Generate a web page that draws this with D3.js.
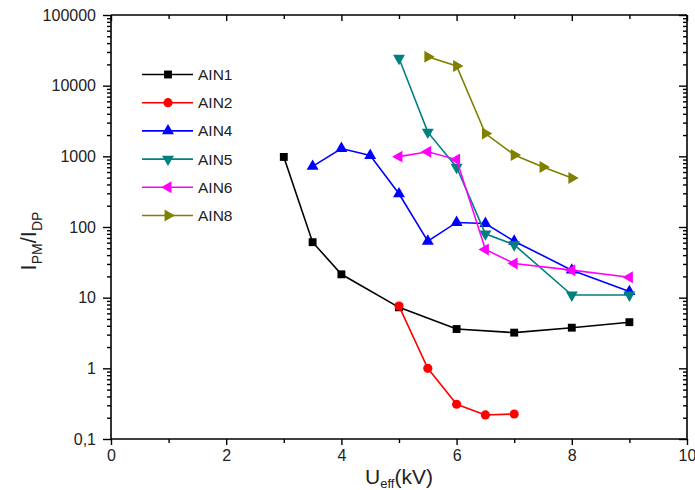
<!DOCTYPE html>
<html>
<head>
<meta charset="utf-8">
<script src="https://cdn.jsdelivr.net/npm/d3@7"></script>
<style>
  html, body { margin: 0; padding: 0; background: #fff; }
  svg { display: block; font-family: Arial, "Liberation Sans", sans-serif; }
</style>
</head>
<body>
<svg id="chart" width="695" height="490"></svg>
<script>
// Ratio I_PM / I_DP versus effective voltage for several samples
const seriesNames = ["AIN1", "AIN2", "AIN4", "AIN5", "AIN6", "AIN8"];
const seriesColors = ["#000000", "#ff0000", "#0000ff", "#008080", "#ff00ff", "#808000"];
const seriesSymbols = ["square", "circle", "up", "down", "left", "right"];

const ain1X = [3, 3.5, 4, 5, 6, 7, 8, 9];
const ain1Y = [980, 61, 21.4, 7.3, 3.6, 3.2, 3.76, 4.5];
const ain2X = [5, 5.5, 6, 6.5, 7];
const ain2Y = [7.6, 1.0, 0.31, 0.219, 0.226];
const ain4X = [3.5, 4, 4.5, 5, 5.5, 6, 6.5, 7, 8, 9];
const ain4Y = [720, 1290, 1030, 295, 63, 116, 112, 63, 24.5, 12.2];
const ain5X = [5, 5.5, 6, 6.5, 7, 8, 9];
const ain5Y = [24400, 2200, 700, 80, 56, 10.9, 10.9];
const ain6X = [5, 5.5, 6, 6.5, 7, 8, 9];
const ain6Y = [990, 1160, 900, 48, 30.5, 24.5, 19.4];
const ain8X = [5.5, 6, 6.5, 7, 7.5, 8];
const ain8Y = [25700, 19000, 2100, 1045, 706, 493];

const xTickValues = [0, 2, 4, 6, 8, 10];
const xTickLabels = ["0", "2", "4", "6", "8", "10"];
const yTickValues = [0.1, 1, 10, 100, 1000, 10000, 100000];
const yTickLabels = ["0,1", "1", "10", "100", "1000", "10000", "100000"];

const seriesX = [ain1X, ain2X, ain4X, ain5X, ain6X, ain8X];
const seriesY = [ain1Y, ain2Y, ain4Y, ain5Y, ain6Y, ain8Y];

const svg = d3.select("#chart");
const plotLeft = 111, plotRight = 687, plotTop = 15, plotBottom = 439;

const x = d3.scaleLinear().domain([0, 10]).range([plotLeft, plotRight]);
const y = d3.scaleLog().domain([0.1, 100000]).range([plotBottom, plotTop]);

// minor tick positions
const xMinor = d3.range(1, 10, 2);
const yMinor = [];
for (let e = -1; e < 5; e++) for (let m = 2; m <= 9; m++) yMinor.push(m * Math.pow(10, e));

const axisG = svg.append("g");

function addAxis(axisFn, scale, transform, major, majorSize, minor, minorSize, labels, padding) {
  const g = axisG.append("g").attr("transform", transform);
  const major_ = axisFn(scale).tickValues(major).tickSize(majorSize);
  if (labels) major_.tickFormat((d, i) => labels[i]).tickPadding(padding);
  else major_.tickFormat("");
  g.call(major_);
  const mg = g.append("g").call(axisFn(scale).tickValues(minor).tickFormat("").tickSize(minorSize));
  mg.select(".domain").remove();
  return g;
}

const bottomAxis = addAxis(d3.axisBottom, x, `translate(0,${plotBottom})`, xTickValues, 6, xMinor, 4, xTickLabels, 5);
const leftAxis = addAxis(d3.axisLeft, y, `translate(${plotLeft},0)`, yTickValues, 8, yMinor, 4, yTickLabels, 7);
// top and right frame edges carry ticks pointing into the plot
const topAxis = addAxis(d3.axisBottom, x, `translate(0,${plotTop})`, xTickValues, 6, xMinor, 4, null, 0);
const rightAxis = addAxis(d3.axisLeft, y, `translate(${plotRight},0)`, yTickValues, 8, yMinor, 4, null, 0);

axisG.selectAll(".domain").attr("stroke", "#000").attr("stroke-width", 1.6);
axisG.selectAll(".tick line").attr("stroke", "#000").attr("stroke-width", 1.4);
axisG.selectAll(".tick text").attr("fill", "#222").style("font-size", "16px")
  .style("font-family", "Arial, 'Liberation Sans', sans-serif");

bottomAxis.select(".domain").attr("d", `M${plotLeft},0H${plotRight}`);
topAxis.select(".domain").attr("d", `M${plotLeft},0H${plotRight}`);
leftAxis.select(".domain").attr("d", `M0,${plotTop}V${plotBottom}`);
rightAxis.select(".domain").attr("d", `M0,${plotTop}V${plotBottom}`);

// axis titles, centred on their axes
const xTitle = svg.append("text")
  .attr("x", (plotLeft + plotRight) / 2).attr("y", 484)
  .attr("text-anchor", "middle")
  .attr("fill", "#222")
  .style("font-size", "21px");
xTitle.append("tspan").text("U");
xTitle.append("tspan").attr("dy", 4).style("font-size", "13px").text("eff");
xTitle.append("tspan").attr("dy", -4).text("(kV)");

const yTitle = svg.append("text")
  .attr("transform", "translate(36,241) rotate(-90)")
  .attr("text-anchor", "middle")
  .attr("fill", "#222")
  .style("font-size", "22px");
yTitle.append("tspan").text("I");
yTitle.append("tspan").attr("dy", 6).style("font-size", "14px").text("PM");
yTitle.append("tspan").attr("dy", -6).text("/I");
yTitle.append("tspan").attr("dy", 6).style("font-size", "14px").text("DP");

// marker shapes
function symbolPath(kind) {
  if (kind === "square") return d3.symbol(d3.symbolSquare, 62)();
  if (kind === "circle") return d3.symbol(d3.symbolCircle, 66)();
  return d3.symbol(d3.symbolTriangle, 62)();
}
function symbolRotation(kind) {
  return { up: 0, down: 180, left: -90, right: 90 }[kind] || 0;
}

const line = d3.line().x(d => x(d[0])).y(d => y(d[1]));

const plot = svg.append("g");
seriesNames.forEach((name, i) => {
  const pts = seriesX[i].map((v, j) => [v, seriesY[i][j]]);
  const g = plot.append("g");
  g.append("path").datum(pts)
    .attr("d", line)
    .attr("fill", "none")
    .attr("stroke", seriesColors[i])
    .attr("stroke-width", 1.6);
  g.selectAll("path.mk").data(pts).enter().append("path")
    .attr("class", "mk")
    .attr("d", symbolPath(seriesSymbols[i]))
    .attr("transform", d => `translate(${x(d[0])},${y(d[1])}) rotate(${symbolRotation(seriesSymbols[i])})`)
    .attr("fill", seriesColors[i]);
});

// legend
const legend = svg.append("g");
seriesNames.forEach((name, i) => {
  const ly = 74.5 + i * 28.2;
  const row = legend.append("g");
  row.append("line").attr("x1", 142).attr("x2", 193).attr("y1", ly).attr("y2", ly)
    .attr("stroke", seriesColors[i]).attr("stroke-width", 1.6);
  row.append("path")
    .attr("d", symbolPath(seriesSymbols[i]))
    .attr("transform", `translate(168,${ly}) rotate(${symbolRotation(seriesSymbols[i])})`)
    .attr("fill", seriesColors[i]);
  row.append("text").attr("x", 198).attr("y", ly + 5.5)
    .attr("fill", "#222")
    .style("font-size", "15.5px")
    .text(name);
});
</script>
</body>
</html>
